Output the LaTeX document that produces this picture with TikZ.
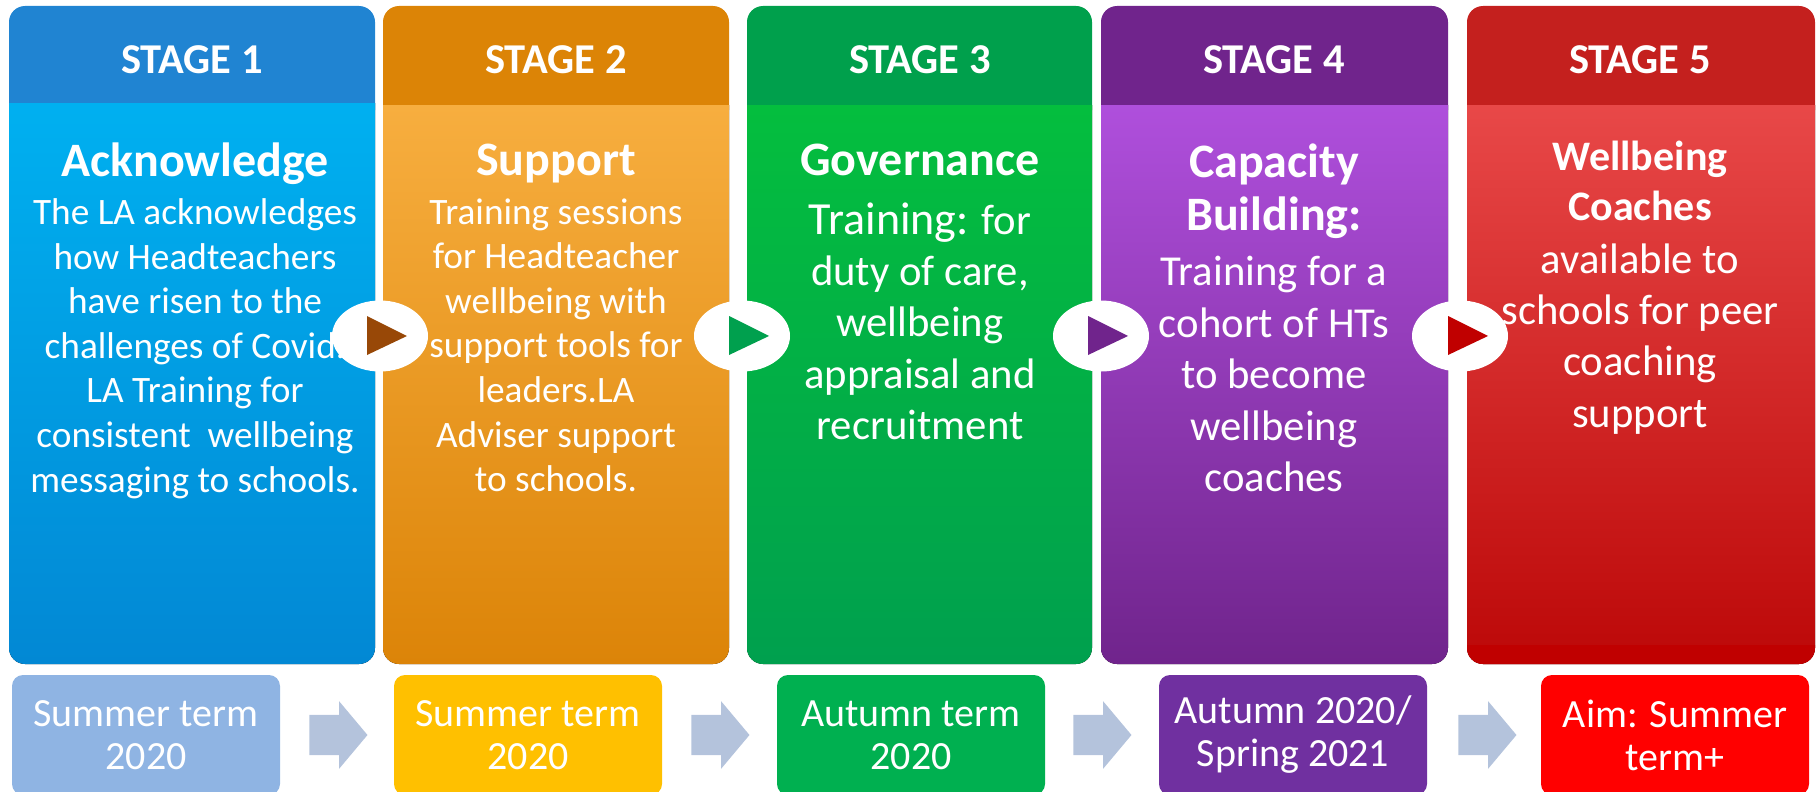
\documentclass[tikz,border=0pt]{standalone}
\usepackage{fontspec}
\setmainfont{Carlito}
\usetikzlibrary{shapes.geometric, shapes.arrows}

\definecolor{headone}{HTML}{2084D2}
\definecolor{headtwo}{HTML}{DC8406}
\definecolor{headthree}{HTML}{00A04C}
\definecolor{headfour}{HTML}{70248C}
\definecolor{headfive}{HTML}{C4201E}
\definecolor{topone}{HTML}{00B0F0}
\definecolor{toptwo}{HTML}{F7AE3F}
\definecolor{topthree}{HTML}{04BE3E}
\definecolor{topfour}{HTML}{AF4FDC}
\definecolor{topfive}{HTML}{E84848}
\definecolor{botone}{HTML}{0288D4}
\definecolor{bottwo}{HTML}{DC8408}
\definecolor{botthree}{HTML}{00A04E}
\definecolor{botfour}{HTML}{70248C}
\definecolor{botfive}{HTML}{BC0808}
\definecolor{termone}{HTML}{8FB4E3}
\definecolor{termtwo}{HTML}{FFC000}
\definecolor{termthree}{HTML}{00B050}
\definecolor{termfour}{HTML}{7030A0}
\definecolor{termfive}{HTML}{FF0000}
\definecolor{nextarrow}{HTML}{B4C3DC}
\definecolor{playbrown}{HTML}{984807}
\definecolor{playred}{HTML}{C00000}

\tikzset{
  stagelabel/.style = {text = white, font = \fontsize{42.5}{50}\bfseries\selectfont},
  titlelabel/.style = {text = white, align = center, anchor = north, font = \fontsize{48}{53}\bfseries\selectfont},
  smalltitle/.style = {text = white, align = center, anchor = north, font = \fontsize{42}{50.5}\bfseries\selectfont},
  smallbody/.style = {text = white, align = center, anchor = north, font = \fontsize{37.3}{44.6}\selectfont},
  largebody/.style = {text = white, align = center, anchor = north, font = \fontsize{42.7}{51.4}\selectfont},
  termbox/.style = {rounded corners = 11pt, minimum width = 268pt, minimum height = 120pt, inner sep = 0pt,
    text = white, align = center, font = \fontsize{40}{43}\selectfont},
  playdisc/.style = {ellipse, fill = white, minimum width = 96pt, minimum height = 71pt, inner sep = 0pt},
  nextbox/.style = {single arrow, fill = nextarrow, single arrow head extend = 13.5pt, single arrow tip angle = 100,
    minimum height = 58pt, inner sep = 0pt}
}

\begin{document}
\begin{tikzpicture}[x = 1pt, y = -1pt]
  \useasboundingbox (0, 0) rectangle (1816, 792);

  % stage columns
  \fill[headone] (9, 110) -- (9, 60) [rounded corners = 16pt] -- (9, 6) -- (375, 6) -- (375, 60) [sharp corners] -- (375, 110) -- cycle;
  \fill[top color = topone, bottom color = botone] (9, 103) -- (9, 300) [rounded corners = 16pt] -- (9, 664) -- (375, 664) -- (375, 300) [sharp corners] -- (375, 103) -- cycle;
  \fill[headtwo] (383, 110) -- (383, 60) [rounded corners = 16pt] -- (383, 6) -- (729, 6) -- (729, 60) [sharp corners] -- (729, 110) -- cycle;
  \fill[top color = toptwo, bottom color = bottwo] (383, 105) -- (383, 300) [rounded corners = 16pt] -- (383, 664) -- (729, 664) -- (729, 300) [sharp corners] -- (729, 105) -- cycle;
  \fill[headthree] (747, 110) -- (747, 60) [rounded corners = 16pt] -- (747, 6) -- (1092, 6) -- (1092, 60) [sharp corners] -- (1092, 110) -- cycle;
  \fill[top color = topthree, bottom color = botthree] (747, 105) -- (747, 300) [rounded corners = 16pt] -- (747, 664) -- (1092, 664) -- (1092, 300) [sharp corners] -- (1092, 105) -- cycle;
  \fill[headfour] (1101, 110) -- (1101, 60) [rounded corners = 16pt] -- (1101, 6) -- (1448, 6) -- (1448, 60) [sharp corners] -- (1448, 110) -- cycle;
  \fill[top color = topfour, bottom color = botfour] (1101, 105) -- (1101, 300) [rounded corners = 16pt] -- (1101, 664) -- (1448, 664) -- (1448, 300) [sharp corners] -- (1448, 105) -- cycle;
  \fill[headfive] (1467, 110) -- (1467, 60) [rounded corners = 16pt] -- (1467, 6) -- (1815, 6) -- (1815, 60) [sharp corners] -- (1815, 110) -- cycle;
  \fill[top color = topfive, bottom color = botfive] (1467, 105) -- (1467, 300) [rounded corners = 16pt] -- (1467, 664) -- (1815, 664) -- (1815, 300) [sharp corners] -- (1815, 105) -- cycle;
  \fill[playred] (1467, 645) [rounded corners = 16pt] -- (1467, 664) -- (1815, 664) [sharp corners] -- (1815, 645) -- cycle;

  \node[stagelabel] (stageone) at (192, 60) {STAGE 1};
  \node[stagelabel] (stagetwo) at (556, 60) {STAGE 2};
  \node[stagelabel] (stagethree) at (920, 60) {STAGE 3};
  \node[stagelabel] (stagefour) at (1274, 60) {STAGE 4};
  \node[stagelabel] (stagefive) at (1640, 60) {STAGE 5};

  \node[titlelabel] (titleone) at (195, 139) {Acknowledge};
  \node[smallbody] (textone) at (195, 195) {The LA acknowledges\\how Headteachers\\have risen to the\\challenges of Covid.\\LA Training for\\consistent\ \ wellbeing\\messaging to schools.};
  \node[titlelabel] (titletwo) at (556, 140) {Support};
  \node[smallbody] (texttwo) at (556, 195) {Training sessions\\for Headteacher\\wellbeing with\\support tools for\\leaders.LA\\Adviser support\\to schools.};
  \node[titlelabel] (titlethree) at (920, 140) {Governance};
  \node[largebody] (textthree) at (920, 199) {{\fontsize{46}{51.4}\selectfont Training:} for\\duty of care,\\wellbeing\\appraisal and\\recruitment};
  \node[titlelabel] (titlefour) at (1274, 140) {Capacity\\Building:};
  \node[largebody] (textfour) at (1274, 253) {Training for a\\cohort of HTs\\to become\\wellbeing\\coaches};
  \node[smalltitle] (titlefive) at (1640, 137) {Wellbeing\\Coaches};
  \node[largebody] (textfive) at (1640, 240) {available to\\schools for peer\\coaching\\support};

  % play buttons
  \node[playdisc] (discone) at (380, 336) {};
  \node[playdisc] (disctwo) at (742, 336) {};
  \node[playdisc] (discthree) at (1101, 336) {};
  \node[playdisc] (discfour) at (1460, 336) {};
  \fill[playbrown] (367, 316) -- (407, 336) -- (367, 355) -- cycle;
  \fill[botthree] (729, 316) -- (769, 336) -- (729, 355) -- cycle;
  \fill[botfour] (1088, 316) -- (1128, 336) -- (1088, 355) -- cycle;
  \fill[playred] (1448, 316) -- (1488, 336) -- (1448, 355) -- cycle;

  % terms
  \node[termbox, fill = termone] (termone) at (146, 735) {Summer term\\2020};
  \node[termbox, fill = termtwo] (termtwo) at (528, 735) {Summer term\\2020};
  \node[termbox, fill = termthree] (termthree) at (911, 735) {Autumn term\\2020};
  \node[termbox, fill = termfour] (termfour) at (1293, 735) {Autumn 2020/\\Spring 2021};
  \node[termbox, fill = termfive] (termfive) at (1675, 735) {Aim: Summer\\term+};

  \node[nextbox] (nextone) at (330, 735) {\rule{0pt}{40pt}};
  \node[nextbox] (nexttwo) at (712, 735) {\rule{0pt}{40pt}};
  \node[nextbox] (nextthree) at (1094, 735) {\rule{0pt}{40pt}};
  \node[nextbox] (nextfour) at (1479, 735) {\rule{0pt}{40pt}};
\end{tikzpicture}
\end{document}
